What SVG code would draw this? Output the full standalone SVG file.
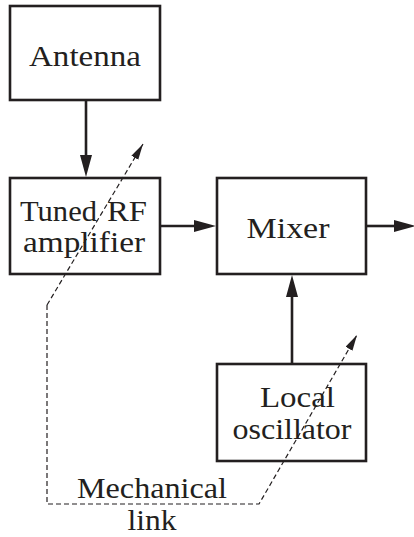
<svg xmlns="http://www.w3.org/2000/svg" width="414" height="537" viewBox="0 0 414 537">
<style>
.box{fill:#fff;stroke:#231f20;stroke-width:2.6}
.lbl{font-family:"Liberation Serif","Times New Roman",serif;font-size:30px;fill:#231f20;text-anchor:middle}
.conn{stroke:#231f20;stroke-width:2.6;fill:none}
.dash{stroke:#231f20;stroke-width:1.2;fill:none;stroke-dasharray:5 3}
</style>
<defs>
<marker id="ah" markerUnits="userSpaceOnUse" markerWidth="24" markerHeight="14" refX="1" refY="6" orient="auto">
<path d="M0,0 L22,6 L0,12 z" fill="#231f20"/>
</marker>
<marker id="dh" markerUnits="userSpaceOnUse" markerWidth="18" markerHeight="10" refX="16" refY="4" orient="auto">
<path d="M0,0 L16,4 L0,8 z" fill="#231f20"/>
</marker>
</defs>
<rect width="414" height="537" fill="#fff"/>
<g id="antenna">
<rect class="box" x="10" y="6" width="150" height="94"/>
<text class="lbl" x="85" y="66" textLength="112" lengthAdjust="spacingAndGlyphs">Antenna</text>
</g>
<g id="tuned-rf">
<rect class="box" x="10" y="178" width="150" height="96"/>
<text class="lbl" x="20" y="221" style="text-anchor:start"><tspan textLength="77" lengthAdjust="spacingAndGlyphs">Tuned</tspan> <tspan x="107" textLength="40" lengthAdjust="spacingAndGlyphs">RF</tspan></text>
<text class="lbl" x="84" y="252" textLength="122" lengthAdjust="spacingAndGlyphs">amplifier</text>
</g>
<g id="mixer">
<rect class="box" x="217" y="178" width="149" height="96"/>
<text class="lbl" x="288" y="238" textLength="83" lengthAdjust="spacingAndGlyphs">Mixer</text>
</g>
<g id="local-oscillator">
<rect class="box" x="217" y="364" width="149" height="97"/>
<text class="lbl" x="297.5" y="407" textLength="75" lengthAdjust="spacingAndGlyphs">Local</text>
<text class="lbl" x="292" y="439" textLength="119" lengthAdjust="spacingAndGlyphs">oscillator</text>
</g>
<g id="mechanical-link-label">
<text class="lbl" x="152" y="498" textLength="150" lengthAdjust="spacingAndGlyphs">Mechanical</text>
<text class="lbl" x="152" y="530" textLength="49" lengthAdjust="spacingAndGlyphs">link</text>
</g>
<g id="connectors">
<line class="conn" x1="86" y1="100" x2="86" y2="156" marker-end="url(#ah)"/>
<line class="conn" x1="160" y1="226" x2="195" y2="226" marker-end="url(#ah)"/>
<line class="conn" x1="366" y1="226" x2="395" y2="226" marker-end="url(#ah)"/>
<line class="conn" x1="292" y1="364" x2="292" y2="296" marker-end="url(#ah)"/>
<path class="dash" d="M47,305 L143,144" marker-end="url(#dh)"/>
<path class="dash" d="M47,305 L47,504 L259,504 L357,335" marker-end="url(#dh)"/>
</g>
</svg>
